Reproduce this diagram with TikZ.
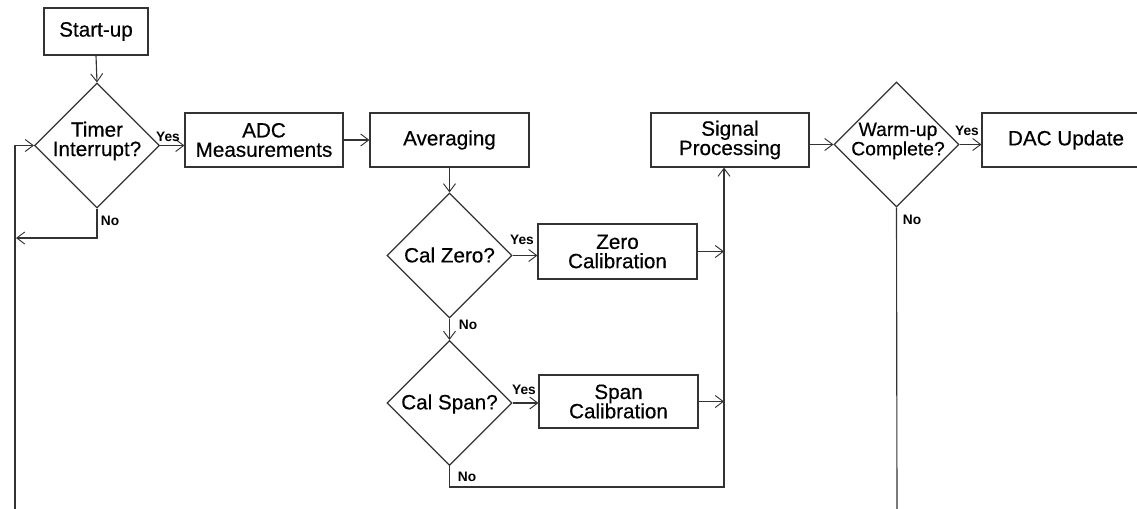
\documentclass[tikz,border=0pt]{standalone}
\usepackage{fontspec}
\setmainfont{Liberation Sans}
\newfontfamily\heavyfont{Liberation Sans}[FakeBold=0.45]
\usetikzlibrary{shapes.geometric,arrows.meta}
\begin{document}
\begin{tikzpicture}[x=0.75pt,y=-0.75pt,
  line width=0.85pt, draw=black!80,
  flow/.style={draw=black!80, -{Straight Barb[length=6pt,width=9pt,line width=0.7pt]}},
  plain/.style={draw=black!80},
  box/.style={draw=black!80, rectangle, inner sep=0pt, align=center,
    font=\heavyfont\fontsize{15.5}{14.5}\selectfont},
  dia/.style={draw=black!80, diamond, inner sep=0pt, minimum width=93.75pt, minimum height=93.75pt},
  dtxt/.style={inner sep=0pt, align=center, font=\heavyfont\fontsize{15.5}{14.5}\selectfont},
  wtxt/.style={inner sep=0pt, align=center, font=\heavyfont\fontsize{14.5}{13.5}\selectfont},
  lab/.style={inner sep=0pt, font=\bfseries\fontsize{10.3}{10}\selectfont}]
\useasboundingbox (0,0) rectangle (1137,508);
\clip (0,0) rectangle (1137,508);

% boxes
\node[box, minimum width=78pt, minimum height=35.25pt] (startup) at (96,31.5) {Start-up};
\node[box, minimum width=118.5pt, minimum height=40.5pt] (adc) at (264,140) {ADC\\Measurements};
\node[box, minimum width=119.25pt, minimum height=40.5pt] (avg) at (449.5,140) {Averaging};
\node[box, minimum width=118.5pt, minimum height=40.5pt] (sig) at (730,140) {Signal\\Processing};
\node[box, minimum width=126pt, minimum height=40.5pt] (dac) at (1066,140) {DAC Update};
\node[box, minimum width=119.25pt, minimum height=41.25pt] (zero) at (617.5,251.5) {Zero\\Calibration};
\node[box, minimum width=119.25pt, minimum height=39.75pt] (span) at (618.5,401.5) {Span\\Calibration};

% diamonds
\node[dia] (timer) at (97,145.5) {};
\node[dtxt] (timertxt) at (97,141) {Timer\\Interrupt?};
\node[dia] (calzero) at (449.5,255.5) {};
\node[dtxt] (calzerotxt) at (449.5,255) {Cal Zero?};
\node[dia] (calspan) at (449.5,403) {};
\node[dtxt] (calspantxt) at (449.5,404) {Cal Span?};
\node[dia] (warm) at (896.5,144.5) {};
\node[wtxt] (warmtxt) at (898,141) {Warm-up\\Complete?};

% helper coordinates
\coordinate (bus) at (724,487);
\coordinate (leftbus) at (15,520);
\coordinate (loopend) at (16,238);
\coordinate (warmend) at (897,520);

% connectors
\draw[flow] (startup.south) -- (timer.north);
\draw[flow] (timer.east) -- (adc.west |- timer.east);
\draw[flow] (adc.east) -- (avg.west);
\draw[flow] (avg.south) -- (calzero.north);
\draw[flow] (calzero.east) -- (zero.west |- calzero.east);
\draw[flow] (calzero.south) -- (calspan.north);
\draw[flow] (calspan.east) -- (span.west |- calspan.east);
\draw[flow] (zero.east) -- (zero.east -| bus);
\draw[flow] (span.east) -- (span.east -| bus);
\draw[flow] (calspan.south) |- (bus) -- (bus |- sig.south);
\draw[flow] (sig.east |- warm.west) -- (warm.west);
\draw[flow] (warm.east) -- (dac.west |- warm.east);
\draw[plain] (warm.south) -- (warmend);
\draw[flow] (timer.south) |- (loopend);
\draw[flow] (leftbus) |- (timer.west);

% labels
\node[lab] (y1) at (168,137) {Yes};
\node[lab] (n1) at (110,221) {No};
\node[lab] (y2) at (522,240) {Yes};
\node[lab] (n2) at (468,325) {No};
\node[lab] (y3) at (524,390) {Yes};
\node[lab] (n3) at (467,477) {No};
\node[lab] (y4) at (967,131) {Yes};
\node[lab] (n4) at (912,220) {No};
\end{tikzpicture}
\end{document}
